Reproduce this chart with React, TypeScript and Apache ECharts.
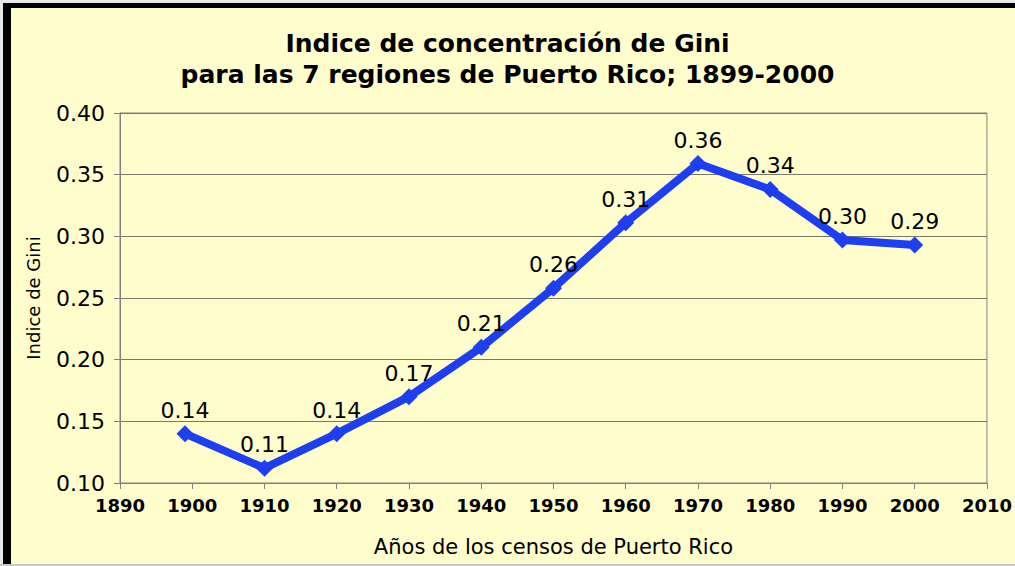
import React, { useEffect, useRef } from "react";
import * as echarts from "echarts";

const years = [1899, 1910, 1920, 1930, 1940, 1950, 1960, 1970, 1980, 1990, 2000];
const gini = [0.140, 0.112, 0.140, 0.170, 0.210, 0.258, 0.311, 0.359, 0.338, 0.297, 0.293];
const titleLines = ["Indice de concentración de Gini", "para las 7 regiones de Puerto Rico; 1899-2000"];
const yName = "Indice de Gini";
const xName = "Años de los censos de Puerto Rico";

export default function App() {
  const ref = useRef<HTMLDivElement>(null);
  useEffect(() => {
    document.body.style.margin = "0";
    const chart = echarts.init(ref.current!, null, { renderer: "svg" });
    const font = "'DejaVu Sans', Arial, sans-serif";
    chart.setOption({
      animation: false,
      backgroundColor: "#FFFDCC",
      textStyle: { fontFamily: font },
      title: {
        text: titleLines.join("\n"),
        left: "center",
        top: 23,
        textStyle: { fontFamily: font, fontSize: 25, fontWeight: "bold", color: "#000", lineHeight: 31 },
      },
      graphic: [
        { type: "rect", shape: { x: 0, y: 0, width: 1015, height: 3 }, style: { fill: "#e8e8e8" } },
        { type: "rect", shape: { x: 0, y: 0, width: 3, height: 566 }, style: { fill: "#e8e8e8" } },
        { type: "rect", shape: { x: 3, y: 3, width: 1012, height: 5 }, style: { fill: "#000" } },
        { type: "rect", shape: { x: 3, y: 3, width: 8, height: 563 }, style: { fill: "#000" } },
        { type: "rect", shape: { x: 0, y: 564, width: 1015, height: 2 }, style: { fill: "#c8c8c8" } },
      ],
      grid: { left: 120, top: 113, right: 23, bottom: 83, show: true, borderColor: "#808080", borderWidth: 1, backgroundColor: "transparent" },
      xAxis: {
        type: "value",
        min: 1890,
        max: 2010,
        interval: 10,
        name: xName,
        nameLocation: "middle",
        nameGap: 53,
        nameTextStyle: { fontFamily: font, fontSize: 21, color: "#000" },
        axisLine: { lineStyle: { color: "#808080" } },
        axisTick: { length: 6, lineStyle: { color: "#808080" } },
        axisLabel: { fontFamily: font, fontSize: 18, fontWeight: "bold", color: "#000", margin: 13, formatter: (v: number) => String(v) },
        splitLine: { show: false },
      },
      yAxis: {
        type: "value",
        min: 0.1,
        max: 0.4,
        interval: 0.05,
        name: yName,
        nameLocation: "middle",
        nameGap: 78,
        nameRotate: 90,
        nameTextStyle: { fontFamily: font, fontSize: 18, color: "#000" },
        axisLine: { show: true, lineStyle: { color: "#808080" } },
        axisTick: { show: true, length: 6, lineStyle: { color: "#808080" } },
        axisLabel: { fontFamily: font, fontSize: 22, color: "#000", margin: 15, formatter: (v: number) => v.toFixed(2) },
        splitLine: { lineStyle: { color: "#7a7a6a", width: 1 } },
      },
      series: [
        {
          type: "line",
          data: years.map((y, i) => [y, gini[i]]),
          symbol: "diamond",
          symbolSize: 17,
          lineStyle: { color: "#1E3EF2", width: 8 },
          itemStyle: { color: "#1E3EF2" },
          label: {
            show: true,
            position: "top",
            distance: 4,
            fontFamily: font,
            fontSize: 22,
            color: "#000",
            formatter: (p: any) => p.value[1].toFixed(2),
          },
        },
      ],
    });
    return () => chart.dispose();
  }, []);
  return <div ref={ref} style={{ width: 1015, height: 566 }} />;
}
